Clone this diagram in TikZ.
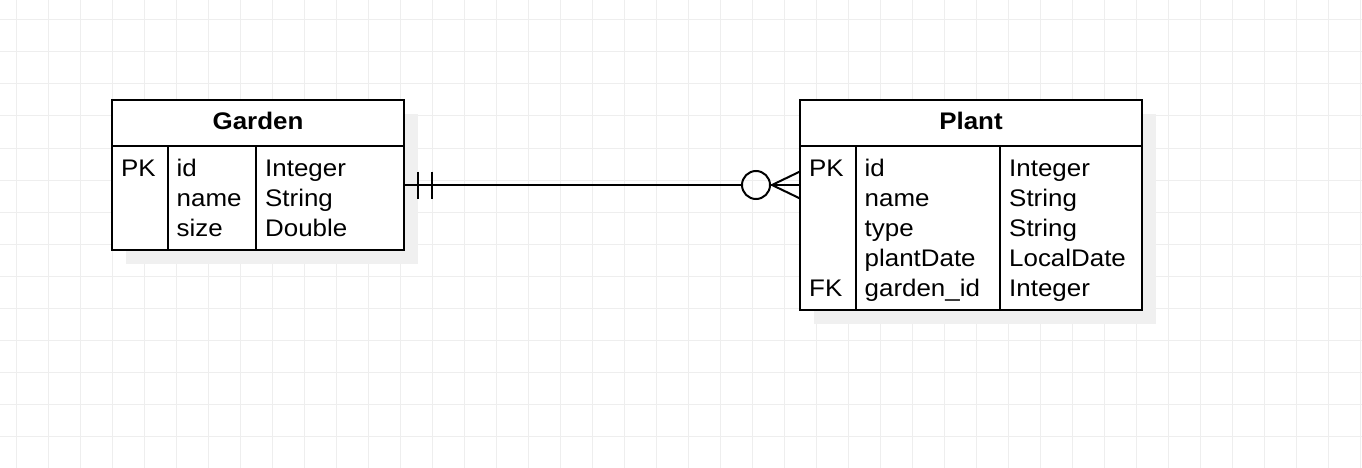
\documentclass[tikz,border=0pt]{standalone}
\usepackage{fontspec}
\setmainfont{Liberation Sans}[FakeStretch=1.08]
\definecolor{gridc}{HTML}{EEEEEE}
\definecolor{shadowc}{HTML}{F0F0F0}
\begin{document}
\begin{tikzpicture}[x=1pt,y=-1pt,
  gridline/.style={draw=gridc,line width=1pt},
  entity/.style={draw=black,fill=white,line width=2pt,rectangle,inner sep=0pt},
  sep/.style={draw=black,line width=2pt},
  cell/.style={anchor=base west,inner sep=0pt,font=\fontsize{24}{30}\selectfont},
  hdr/.style={anchor=base,inner sep=0pt,font=\fontsize{24}{30}\selectfont\bfseries},
  conn/.style={draw=black,line width=2pt}]
\useasboundingbox (0,0) rectangle (1362,468);
\fill[white] (0,0) rectangle (1362,468);
% grid
\foreach \x in {16,48,...,1360} \draw[gridline] (\x,0) -- (\x,468);
\foreach \y in {20,52,...,468} \draw[gridline] (0,\y) -- (1362,\y);
% shadows
\fill[shadowc] (126,114) rectangle (418,264);
\fill[shadowc] (814,114) rectangle (1156,324);
% Garden entity
\node[entity,minimum width=292pt,minimum height=150pt] (garden) at (258,175) {};
\draw[sep] (garden.west |- 0,146) -- (garden.east |- 0,146);
\draw[sep] (168,146) -- (garden.south -| 168,0);
\draw[sep] (256,146) -- (garden.south -| 256,0);
\node[hdr] (gtitle) at (258,129) {Garden};
\node[cell] (gk1) at (121,176) {PK};
\node[cell] (ga1) at (176.5,176) {id};
\node[cell] (ga2) at (176.5,206) {name};
\node[cell] (ga3) at (176.5,236) {size};
\node[cell] (gt1) at (265,176) {Integer};
\node[cell] (gt2) at (265,206) {String};
\node[cell] (gt3) at (265,236) {Double};
% Plant entity
\node[entity,minimum width=342pt,minimum height=210pt] (plant) at (971,205) {};
\draw[sep] (plant.west |- 0,146) -- (plant.east |- 0,146);
\draw[sep] (856,146) -- (plant.south -| 856,0);
\draw[sep] (1000,146) -- (plant.south -| 1000,0);
\node[hdr] (ptitle) at (971,129) {Plant};
\node[cell] (pk1) at (809,176) {PK};
\node[cell] (pk5) at (809,296) {FK};
\node[cell] (pa1) at (864.5,176) {id};
\node[cell] (pa2) at (864.5,206) {name};
\node[cell] (pa3) at (864.5,236) {type};
\node[cell] (pa4) at (864.5,266) {plantDate};
\node[cell] (pa5) at (864.5,296) {garden\_id};
\node[cell] (pt1) at (1009,176) {Integer};
\node[cell] (pt2) at (1009,206) {String};
\node[cell] (pt3) at (1009,236) {String};
\node[cell] (pt4) at (1009,266) {LocalDate};
\node[cell] (pt5) at (1009,296) {Integer};
% connector
\coordinate (cs) at (garden.east |- 0,185);
\coordinate (ce) at (plant.west |- 0,185);
\coordinate (cc) at (756,185);
\draw[conn] (cs) -- (742,185);
% one-and-only-one
\draw[conn] (418,171.5) -- (418,198.5);
\draw[conn] (432,171.5) -- (432,198.5);
% zero-or-many
\draw[conn] (cc) circle[radius=14];
\draw[conn] (770,185) -- (ce);
\draw[conn] (772,185) -- (800,171.5);
\draw[conn] (772,185) -- (800,198.5);
\end{tikzpicture}
\end{document}
